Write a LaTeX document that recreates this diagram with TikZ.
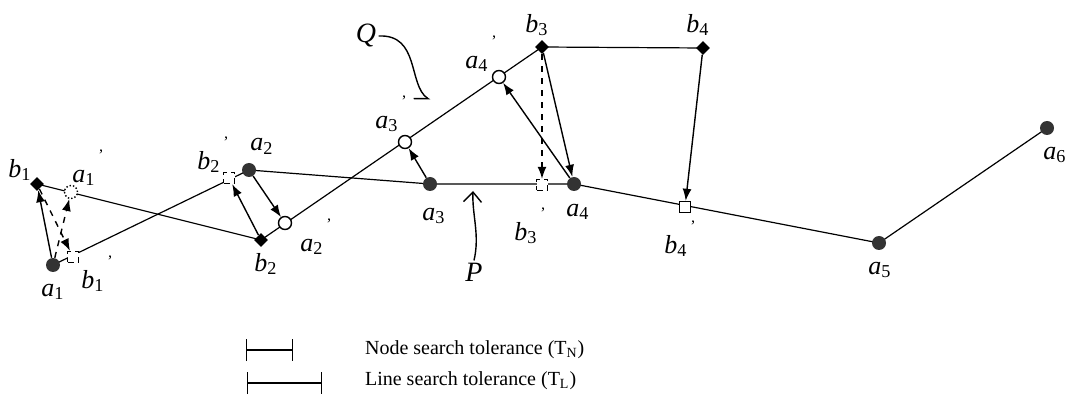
\documentclass[tikz,border=0pt]{standalone}
\usepackage{fontspec}
\setmainfont{Liberation Serif}
\usetikzlibrary{arrows.meta,shapes.geometric,backgrounds}

\newcommand{\lab}[2]{\textit{#1}\textsubscript{#2}}
\newcommand{\labp}[2]{\textit{#1}\textsubscript{#2}\hspace{1.5pt}\raisebox{1.8ex}{\footnotesize ’}}

\begin{document}
\begin{tikzpicture}[x=0.5pt,y=-0.5pt,
  vtx/.style={circle,fill=black!80,inner sep=0pt,minimum size=7pt},
  bvtx/.style={diamond,fill=black,inner sep=0pt,minimum size=7pt},
  avtx/.style={circle,draw,fill=white,line width=0.7pt,inner sep=0pt,minimum size=6.5pt},
  bsq/.style={rectangle,draw,densely dashed,fill=white,line width=0.7pt,inner sep=0pt,minimum size=5.5pt},
  lbl/.style={font=\fontsize{13}{15}\selectfont,inner sep=1pt},
  move/.style={-{Latex[length=6pt,width=4.5pt]},line width=0.7pt},
  seg/.style={line width=0.6pt}]
\useasboundingbox (0,0) rectangle (1076,406);

% Points of line P
\node[vtx] (a1) at (53,265) {};
\node[vtx] (a2) at (249,170) {};
\node[vtx] (a3) at (430,184) {};
\node[vtx] (a4) at (574,184) {};
\node[vtx] (a5) at (879,243) {};
\node[vtx] (a6) at (1047,128) {};

% Points of line Q
\node[bvtx] (b1) at (37,184) {};
\node[bvtx] (b2) at (261,240) {};
\node[bvtx] (b3) at (542,47) {};
\node[bvtx] (b4) at (703,48) {};

% Snapped points
\node[avtx,densely dotted] (a1p) at (71,192) {};
\node[avtx] (a2p) at (285,223) {};
\node[avtx] (a3p) at (405,142) {};
\node[avtx] (a4p) at (499,77) {};
\node[bsq] (b1p) at (73,257) {};
\node[bsq] (b2p) at (229,178) {};
\node[bsq] (b3p) at (542,185) {};
\node[bsq,solid] (b4p) at (685,207) {};

% Lines
\begin{scope}[on background layer]
\draw[seg] (a1.center) -- (a2.center) -- (a3.center) -- (a4.center) -- (a5.center) -- (a6.center);
\draw[seg] (b1.center) -- (b2.center) -- (b3.center) -- (b4.center);
\end{scope}

% Moves
\draw[move,{Latex[length=6pt,width=4.5pt]}-] (b1) -- (a1);
\draw[move,dashed] (b1) -- (b1p);
\draw[move,dashed] (a1) -- (a1p);
\draw[move] (b2) -- (b2p);
\draw[move] (a2) -- (a2p);
\draw[move] (a3) -- (a3p);
\draw[move] (a4) -- (a4p);
\draw[move] (b3) -- (a4);
\draw[move,dashed] (b3) -- (b3p);
\draw[move] (b4) -- (b4p);

% Labels
\node[lbl] (lb1) at (20,170) {\lab{b}{1}};
\node[lbl] (la1p) at (88,168) {\labp{a}{1}};
\node[lbl] (la1) at (53,292) {\lab{a}{1}};
\node[lbl] (lb1p) at (97,274) {\labp{b}{1}};
\node[lbl] (lb2p) at (213,155) {\labp{b}{2}};
\node[lbl] (la2) at (262,146) {\lab{a}{2}};
\node[lbl] (la2p) at (316,237) {\labp{a}{2}};
\node[lbl] (lb2) at (266,264) {\lab{b}{2}};
\node[lbl] (la3p) at (391,114) {\labp{a}{3}};
\node[lbl] (la4p) at (481,54) {\labp{a}{4}};
\node[lbl] (lb3) at (537,25) {\lab{b}{3}};
\node[lbl] (lb4) at (698,25) {\lab{b}{4}};
\node[lbl] (la3) at (434,216) {\lab{a}{3}};
\node[lbl] (lb3p) at (530,226) {\labp{b}{3}};
\node[lbl] (la4) at (578,212) {\lab{a}{4}};
\node[lbl] (lb4p) at (680,239) {\labp{b}{4}};
\node[lbl] (la5) at (880,270) {\lab{a}{5}};
\node[lbl] (la6) at (1055,155) {\lab{a}{6}};

% Line names
\node[lbl,font=\itshape\fontsize{14}{16}\selectfont] (nQ) at (366,36) {Q};
\node[lbl,font=\itshape\fontsize{14}{16}\selectfont] (nP) at (474,272) {P};
\coordinate (qtip) at (430,100);
\coordinate (ptip) at (473,191);
\draw[line width=0.7pt,-{Straight Barb[right,length=6pt,width=8pt]}]
  (nQ.east) .. controls (420,34) and (408,85) .. (qtip);
\draw[line width=0.7pt,-{Straight Barb[length=5pt,width=9pt]}]
  (nP.north) .. controls (480,235) and (472,215) .. (ptip);

% Legend
\coordinate (n0) at (246,350); \coordinate (n1) at (293,350);
\coordinate (l0) at (247,383); \coordinate (l1) at (322,383);
\draw[line width=0.7pt,{Bar[width=11pt]}-{Bar[width=11pt]}] (n0) -- (n1);
\draw[line width=0.7pt,{Bar[width=11pt]}-{Bar[width=11pt]}] (l0) -- (l1);
\node[anchor=west,font=\fontsize{10}{12}\selectfont] (tn) at (358,350) {Node search tolerance (T\textsubscript{N})};
\node[anchor=west,font=\fontsize{10}{12}\selectfont] (tl) at (358,381) {Line search tolerance (T\textsubscript{L})};
\end{tikzpicture}
\end{document}
